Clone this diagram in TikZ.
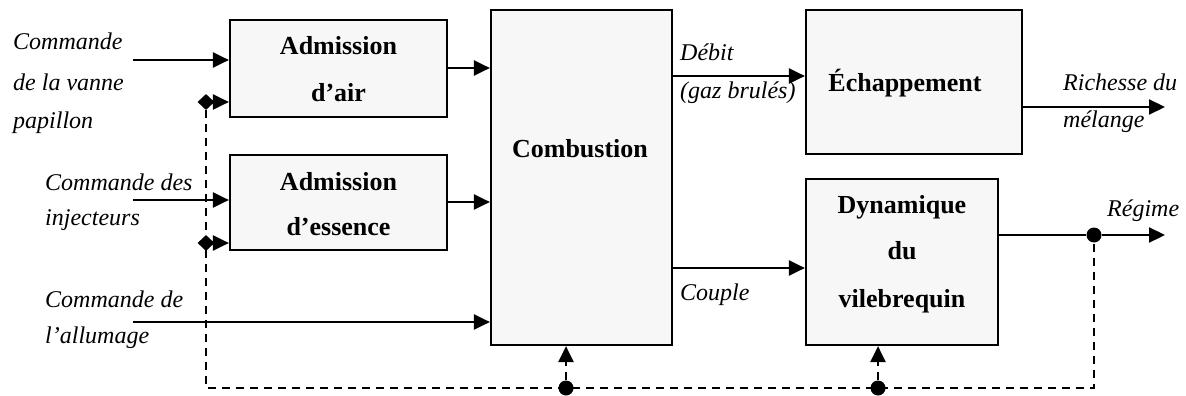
\documentclass[tikz,border=0pt]{standalone}
\usepackage{fontspec}
\setmainfont{Liberation Serif}
\usetikzlibrary{arrows.meta,shapes.geometric,calc}

\begin{document}
\begin{tikzpicture}[x=1pt,y=-1pt,
  block/.style={draw=black, fill=black!3, line width=2.2pt, inner sep=0pt},
  lbl/.style={anchor=base west, inner sep=0pt, font=\fontsize{24}{28}\selectfont\itshape},
  ttl/.style={anchor=base, inner sep=0pt, font=\fontsize{26}{30}\selectfont\bfseries},
  flow/.style={line width=2.2pt, -{Triangle[length=16pt,width=15pt]}},
  fb/.style={line width=2.6pt, dash pattern=on 8pt off 6pt},
  fbarrow/.style={fb, -{Triangle[length=16pt,width=15pt]}},
  dot/.style={circle, fill=black, inner sep=0pt, minimum size=15pt},
  tap/.style={diamond, fill=black, inner sep=0pt, minimum width=17pt, minimum height=16pt},
]
\fill[white] (0,0) rectangle (1186,396);
\useasboundingbox (0,0) rectangle (1186,396);

% blocks
\node[block, minimum width=217pt, minimum height=97pt]  (air)  at (338.5,68.5) {};
\node[block, minimum width=217pt, minimum height=95pt]  (ess)  at (338.5,202.5) {};
\node[block, minimum width=181pt, minimum height=335pt] (comb) at (581.5,177.5) {};
\node[block, minimum width=216pt, minimum height=144pt] (ech)  at (914,82) {};
\node[block, minimum width=192pt, minimum height=166pt] (dyn)  at (902,262) {};

% block titles
\node[ttl] (airT1) at (338.5,55)  {Admission};
\node[ttl] (airT2) at (338.5,101) {d’air};
\node[ttl] (essT1) at (338.5,190) {Admission};
\node[ttl] (essT2) at (338.5,235) {d’essence};
\node[ttl] (combT) at (580,157)   {Combustion};
\node[ttl] (echT)  at (905,92)    {Échappement};
\node[ttl] (dynT1) at (902,213)   {Dynamique};
\node[ttl] (dynT2) at (902,259)   {du};
\node[ttl] (dynT3) at (902,307)   {vilebrequin};

% signal labels
\node[lbl] (v1) at (13,50)  {Commande};
\node[lbl] (v2) at (13,90)  {de la vanne};
\node[lbl] (v3) at (13,128) {papillon};
\node[lbl] (i1) at (45,190) {Commande des};
\node[lbl] (i2) at (45,225) {injecteurs};
\node[lbl] (a1) at (45,307) {Commande de};
\node[lbl] (a2) at (45,343) {l’allumage};
\node[lbl] (d1) at (680,60)  {Débit};
\node[lbl] (d2) at (680,99)  {(gaz brulés)};
\node[lbl] (c1) at (680,300) {Couple};
\node[lbl] (r1) at (1063,90)  {Richesse du};
\node[lbl] (r2) at (1063,127) {mélange};
\node[lbl] (g1) at (1107,216) {Régime};

% branch points
\node[tap] (tA) at (206,102) {};
\node[tap] (tE) at (206,243) {};
\node[dot] (g)  at (1094,235) {};
\node[dot] (fC) at (566,388) {};
\node[dot] (fD) at (878,388) {};
\coordinate (fL) at (206,388);
\coordinate (fR) at (1094,388);

% inputs
\coordinate (inV) at (133,60);
\coordinate (inI) at (133,200);
\coordinate (inA) at (133,322);
\draw[flow] (inV) -- (air.west|-inV);
\draw[flow] (inI) -- (ess.west|-inI);
\draw[flow] (inA) -- (comb.west|-inA);
\draw[flow] (tA.east) -- (air.west|-tA);
\draw[flow] (tE.east) -- (ess.west|-tE);

% internal flows
\coordinate (aq) at (447,68);
\coordinate (eq) at (447,202);
\coordinate (dq) at (672,76);
\coordinate (cq) at (672,268);
\draw[flow] (air.east|-aq) -- (comb.west|-aq);
\draw[flow] (ess.east|-eq) -- (comb.west|-eq);
\draw[flow] (comb.east|-dq) -- (ech.west|-dq);
\draw[flow] (comb.east|-cq) -- (dyn.west|-cq);

% outputs
\coordinate (rq) at (1022,107);
\coordinate (rEnd) at (1165,107);
\coordinate (gEnd) at (1165,235);
\draw[flow] (ech.east|-rq) -- (rEnd);
\draw[line width=2.2pt] (dyn.east|-g) -- (g);
\draw[flow] (g) -- (gEnd);

% feedback of the engine speed
\draw[fb] (tA.south) -- (fL) -- (fR) -- (g.south);
\draw[fbarrow] (fC) -- (comb.south-|fC);
\draw[fbarrow] (fD) -- (dyn.south-|fD);
\end{tikzpicture}
\end{document}
